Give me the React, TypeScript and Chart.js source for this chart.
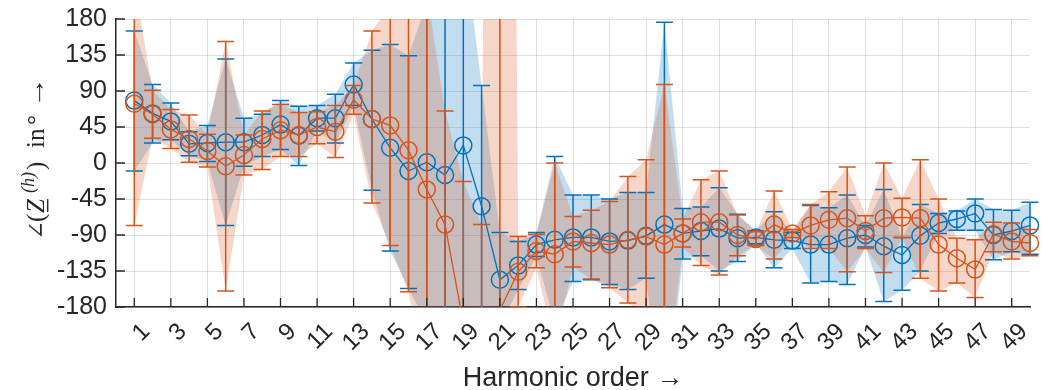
import React, { useEffect, useRef } from 'react';
import { Chart, registerables } from 'chart.js';

Chart.register(...registerables);

// ---------- data ----------
const harmonics = [
  1, 2, 3, 4, 5, 6, 7, 8, 9, 10, 11, 12, 13, 14, 15, 16, 17, 18, 19, 20, 21, 22, 23, 24, 25,
  26, 27, 28, 29, 30, 31, 32, 33, 34, 35, 36, 37, 38, 39, 40, 41, 42, 43, 44, 45, 46, 47, 48, 49, 50,
];

const blueMean = [
  78, 62, 52, 24, 25, 26, 26, 35, 48, 34, 56, 56, 98, 55, 19, -10, 1, -15, 22, -54, -146, -128, -102, -96, -93,
  -93, -98, -97, -91, -77, -88, -85, -82, -94, -93, -96, -97, -102, -102, -94, -90, -104, -115, -91, -75, -70, -63, -90, -85, -78,
];
const blueLow = [
  -10, 25, 29, 9, 2, -78, -4, 8, 17, -3, 40, 25, 72, -34, -110, -157, -200, -270, -240, -206, -205, -158, -117, -200, -148,
  -146, -152, -158, -144, -329, -120, -116, -135, -123, -101, -131, -107, -150, -148, -152, -105, -173, -159, -135, -88, -84, -84, -121, -111, -114,
];
const blueHigh = [
  165, 98, 75, 39, 47, 130, 56, 61, 78, 71, 72, 86, 125, 141, 148, 134, 200, 240, 280, 97, -87, -98, -87, 8, -40,
  -40, -45, -37, -37, 176, -57, -55, -31, -64, -85, -61, -87, -53, -56, -40, -78, -33, -93, -52, -63, -60, -45, -58, -59, -49,
];

const orangeMean = [
  74, 61, 42, 30, 15, -4, 10, 30, 41, 35, 45, 39, 79, 55, 47, 16, -33, -77, -200, -230, -184, -136, -110, -114, -98,
  -100, -102, -96, -92, -102, -88, -74, -74, -90, -95, -77, -88, -78, -71, -69, -85, -69, -68, -69, -102, -119, -133, -89, -98, -100,
];
const orangeLow = [
  -78, 31, 18, 1, -5, -160, -15, -8, 8, 8, 24, 7, 61, -50, -103, -161, -280, -219, -377, -383, -3000, -180, -131, -228, -130,
  -145, -156, -175, -188, -302, -105, -128, -140, -116, -103, -120, -93, -107, -107, -136, -107, -137, -93, -144, -160, -150, -168, -111, -120, -116,
];
const orangeHigh = [
  226, 91, 67, 60, 36, 152, 35, 65, 73, 63, 64, 72, 97, 165, 197, 194, 215, 65, -23, -77, 3000, -92, -89, 0, -67,
  -59, -48, -17, 4, 98, -70, -21, -10, -65, -86, -35, -83, -52, -36, -5, -66, 0, -44, 4, -45, -94, -96, -74, -75, -83,
];

const xTickValues = [1, 3, 5, 7, 9, 11, 13, 15, 17, 19, 21, 23, 25, 27, 29, 31, 33, 35, 37, 39, 41, 43, 45, 47, 49];
const yTickValues = [-180, -135, -90, -45, 0, 45, 90, 135, 180];

const xTitle = 'Harmonic order →';

// ---------- styles ----------
const BLUE = '#0072BD';
const ORANGE = '#D95319';
const BLUE_FILL = 'rgba(0,114,189,0.24)';
const ORANGE_FILL = 'rgba(217,83,25,0.24)';
const AXIS = '#262626';
const GRID = 'rgba(0,0,0,0.12)';
const SANS = '"Liberation Sans", Arial, Helvetica, sans-serif';
const SERIF = '"Liberation Serif", "Times New Roman", serif';

const toPoints = (vals: number[]) => harmonics.map((h, i) => ({ x: h, y: vals[i] }));

const errorSeries = [
  { datasetIndex: 4, low: blueLow, high: blueHigh, color: BLUE },
  { datasetIndex: 5, low: orangeLow, high: orangeHigh, color: ORANGE },
];

const CAP = 8.5;

const errorBarPlugin = {
  id: 'errorBars',
  beforeDatasetDraw(chart: any, args: any) {
    const s = errorSeries.find((e) => e.datasetIndex === args.index);
    if (!s) return;
    const { ctx, chartArea } = chart;
    const x = chart.scales.x;
    const y = chart.scales.y;
    ctx.save();
    ctx.beginPath();
    ctx.rect(chartArea.left - 14, chartArea.top, chartArea.right - chartArea.left + 28, chartArea.bottom - chartArea.top);
    ctx.clip();
    ctx.strokeStyle = s.color;
    ctx.lineWidth = 1.5;
    harmonics.forEach((h, i) => {
      const px = x.getPixelForValue(h);
      const pl = y.getPixelForValue(s.low[i]);
      const ph = y.getPixelForValue(s.high[i]);
      ctx.beginPath();
      ctx.moveTo(px, pl);
      ctx.lineTo(px, ph);
      ctx.moveTo(px - CAP, pl);
      ctx.lineTo(px + CAP, pl);
      ctx.moveTo(px - CAP, ph);
      ctx.lineTo(px + CAP, ph);
      ctx.stroke();
    });
    ctx.restore();
  },
};

const decorPlugin = {
  id: 'decor',
  afterDraw(chart: any) {
    const { ctx, chartArea } = chart;
    const x = chart.scales.x;
    const y = chart.scales.y;
    ctx.save();
    // inward tick marks
    ctx.strokeStyle = AXIS;
    ctx.lineWidth = 1.3;
    ctx.beginPath();
    xTickValues.forEach((v) => {
      const px = x.getPixelForValue(v);
      ctx.moveTo(px, chartArea.bottom);
      ctx.lineTo(px, chartArea.bottom - 9);
    });
    yTickValues.forEach((v) => {
      const py = y.getPixelForValue(v);
      ctx.moveTo(chartArea.left, py);
      ctx.lineTo(chartArea.left + 9, py);
    });
    ctx.stroke();

    // rotated x tick labels
    ctx.fillStyle = AXIS;
    ctx.font = `24px ${SANS}`;
    ctx.textAlign = 'right';
    ctx.textBaseline = 'middle';
    xTickValues.forEach((v) => {
      const px = x.getPixelForValue(v);
      ctx.save();
      ctx.translate(px + 12, chartArea.bottom + 21);
      ctx.rotate(-Math.PI / 4);
      ctx.fillText(String(v), 0, 0);
      ctx.restore();
    });

    // y axis label  ∠(Z^(h)) in ° →   (drawn bottom-to-top)
    const size = 25;
    const start = 240; // screen y where the label begins (bottom end)
    const base = 44; // screen x of the baseline
    const parts = [
      { t: '∠', font: `${size - 2}px "DejaVu Serif", ${SERIF}`, at: 0, dy: 0, u: false, sx: 1 },
      { t: '(', font: `${size}px ${SERIF}`, at: 18, dy: 0, u: false, sx: 1 },
      { t: 'Z', font: `italic ${size}px ${SERIF}`, at: 27, dy: 0, u: true, sx: 1 },
      { t: '(h)', font: `italic ${Math.round(size * 0.72)}px ${SERIF}`, at: 47, dy: -size * 0.42, u: false, sx: 1 },
      { t: ')', font: `${size}px ${SERIF}`, at: 70, dy: 0, u: false, sx: 1 },
      { t: 'in', font: `${size}px ${SERIF}`, at: 92, dy: 0, u: false, sx: 1 },
      { t: '°', font: `${size}px ${SERIF}`, at: 115, dy: 0, u: false, sx: 1 },
      { t: '→', font: `${size}px ${SERIF}`, at: 132, dy: 0, u: false, sx: 1.25 },
    ];
    ctx.translate(base, start);
    ctx.rotate(-Math.PI / 2);
    ctx.textAlign = 'left';
    ctx.textBaseline = 'alphabetic';
    parts.forEach((p) => {
      ctx.font = p.font;
      const w = ctx.measureText(p.t).width;
      ctx.save();
      ctx.translate(p.at, p.dy);
      ctx.scale(p.sx, 1);
      ctx.fillText(p.t, 0, 0);
      ctx.restore();
      if (p.u) {
        ctx.fillRect(p.at + 1, 3, w - 1, 1.4);
      }
    });
    ctx.restore();
  },
};

const pointRadius = (c: any) => {
  const v = c.raw ? c.raw.y : 0;
  return v >= -180 && v <= 180 ? 8.5 : 0;
};

export default function App() {
  const ref = useRef<HTMLCanvasElement>(null);

  useEffect(() => {
    if (!ref.current) return;
    const band = (vals: number[], color: string, fill: any, order: number) => ({
      data: toPoints(vals),
      borderWidth: 0,
      borderColor: 'rgba(0,0,0,0)',
      pointRadius: 0,
      backgroundColor: color,
      fill,
      order,
      tension: 0,
    });
    const meanLine = (vals: number[], color: string, order: number) => ({
      data: toPoints(vals),
      borderColor: color,
      borderWidth: 1.3,
      pointRadius,
      pointHoverRadius: pointRadius,
      pointBorderWidth: 1.5,
      pointBorderColor: color,
      pointBackgroundColor: 'rgba(0,0,0,0)',
      fill: false,
      order,
      tension: 0,
      clip: { left: 14, right: 14, top: 0, bottom: 0 },
    });

    const chart = new Chart(ref.current, {
      type: 'line',
      data: {
        datasets: [
          band(blueHigh, BLUE_FILL, '+1', 6),
          band(blueLow, BLUE_FILL, false, 5),
          band(orangeHigh, ORANGE_FILL, '+1', 4),
          band(orangeLow, ORANGE_FILL, false, 3),
          meanLine(blueMean, BLUE, 2),
          meanLine(orangeMean, ORANGE, 1),
        ] as any,
      },
      options: {
        animation: false,
        responsive: false,
        devicePixelRatio: 1,
        layout: { padding: { left: 0, top: 19, right: 13, bottom: 0 } },
        plugins: {
          legend: { display: false },
          tooltip: { enabled: false },
        },
        events: [],
        scales: {
          x: {
            type: 'linear',
            min: 0,
            max: 50,
            afterBuildTicks: (ax: any) => {
              ax.ticks = xTickValues.map((v) => ({ value: v }));
            },
            ticks: { display: false },
            grid: { color: GRID, lineWidth: 1, drawTicks: false },
            border: { display: true, color: AXIS, width: 1.5 },
            title: {
              display: true,
              text: xTitle,
              color: AXIS,
              font: { family: SANS, size: 27, lineHeight: 1 },
              padding: { top: 0, bottom: -2 },
            },
            afterFit: (s: any) => {
              s.height = 83;
              s.paddingLeft = 0;
              s.paddingRight = 0;
            },
          },
          y: {
            type: 'linear',
            min: -180,
            max: 180,
            afterBuildTicks: (ax: any) => {
              ax.ticks = yTickValues.map((v) => ({ value: v }));
            },
            ticks: {
              color: AXIS,
              font: { family: SANS, size: 25 },
              padding: 9,
              callback: (v: any) => String(v),
            },
            grid: { color: GRID, lineWidth: 1, drawTicks: false },
            border: { display: true, color: AXIS, width: 1.5 },
            afterFit: (s: any) => {
              s.width = 116;
              s.paddingTop = 0;
              s.paddingBottom = 0;
            },
          },
        },
      } as any,
      plugins: [errorBarPlugin, decorPlugin],
    });
    return () => chart.destroy();
  }, []);

  return (
    <div style={{ position: 'absolute', left: 0, top: 0, width: 1043, height: 390, background: '#fff' }}>
      <canvas ref={ref} width={1043} height={390} style={{ display: 'block', width: 1043, height: 390 }} />
    </div>
  );
}
